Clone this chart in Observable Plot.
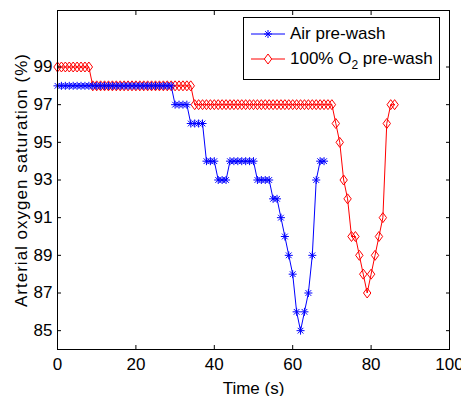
<!DOCTYPE html>
<html>
<head>
<meta charset="utf-8">
<script src="https://cdn.jsdelivr.net/npm/d3@7"></script>
<script src="https://cdn.jsdelivr.net/npm/@observablehq/plot@0.6"></script>
<style>
  html, body { margin: 0; padding: 0; background: white; }
  #wrap { position: relative; width: 461px; height: 396px; font-family: "Liberation Sans", Arial, Helvetica, sans-serif; }
  #wrap svg [aria-label="y-axis label"] text { letter-spacing: 1px; }
  #legend { position: absolute; left: 243px; top: 17px; width: 195px; height: 61px; border: 1.5px solid black; background: white; font-size: 17px; color: black; }
  .row { position: absolute; left: 6px; height: 20px; display: flex; align-items: center; white-space: nowrap; }
  .row svg { margin-right: 4px; }
  sub { font-size: 12px; vertical-align: -5px; line-height: 0; }
</style>
</head>
<body>
<div id="wrap">
  <div id="legend">
    <div class="row" style="top:6px;">
      <svg width="36" height="20"><line x1="1" y1="10" x2="35" y2="10" stroke="#0000ff" stroke-width="1"/><path d="M18,6V14M14,10H22M15.2,7.2L20.8,12.8M15.2,12.8L20.8,7.2" stroke="#0000ff" stroke-width="1" fill="none"/></svg>
      <span>Air pre-wash</span>
    </div>
    <div class="row" style="top:31px;">
      <svg width="36" height="20"><line x1="1" y1="10" x2="35" y2="10" stroke="#ff0000" stroke-width="1"/><path d="M18,5L21.7,10L18,15L14.3,10Z" stroke="#ff0000" stroke-width="1" fill="white"/></svg>
      <span>100% O<sub>2</sub> pre-wash</span>
    </div>
  </div>
</div>
<script>
// ---- data ----
const airTime = [0,1,2,3,4,5,6,7,8,9,10,11,12,13,14,15,16,17,18,19,20,21,22,23,24,25,26,27,28,29,
  30,31,32,33,34,35,36,37,38,39,40,41,42,43,44,45,46,47,48,49,50,51,52,53,54,55,56,57,58,59,
  60,61,62,63,64,65,66,67,68];
const airSat = [98,98,98,98,98,98,98,98,98,98,98,98,98,98,98,98,98,98,98,98,98,98,98,98,98,98,98,98,98,98,
  97,97,97,97,96,96,96,96,94,94,94,93,93,93,94,94,94,94,94,94,94,93,93,93,93,92,92,91,90,89,
  88,86,85,86,87,89,93,94,94];

const o2Time = [0,1,2,3,4,5,6,7,8,9,10,11,12,13,14,15,16,17,18,19,20,21,22,23,24,25,26,27,28,29,
  30,31,32,33,34,35,36,37,38,39,40,41,42,43,44,45,46,47,48,49,50,51,52,53,54,55,56,57,58,59,
  60,61,62,63,64,65,66,67,68,69,70,71,72,73,74,75,76,77,78,79,80,81,82,83,84,85,86];
const o2Sat = [99,99,99,99,99,99,99,99,99,98,98,98,98,98,98,98,98,98,98,98,98,98,98,98,98,98,98,98,98,98,
  98,98,98,98,98,97,97,97,97,97,97,97,97,97,97,97,97,97,97,97,97,97,97,97,97,97,97,97,97,97,
  97,97,97,97,97,97,97,97,97,97,97,96,95,93,92,90,90,89,88,87,88,89,90,91,96,97,97];

const xTicks = [0, 20, 40, 60, 80, 100];
const yTicks = [85, 87, 89, 91, 93, 95, 97, 99];

const air = airTime.map((t, i) => ({t, s: airSat[i]}));
const o2 = o2Time.map((t, i) => ({t, s: o2Sat[i]}));

// MATLAB-like open diamond
const diamondSym = {
  draw(ctx, size) {
    const r = Math.sqrt(size / Math.PI);
    const hw = r, hh = r * 1.35;
    ctx.moveTo(0, -hh); ctx.lineTo(hw, 0); ctx.lineTo(0, hh); ctx.lineTo(-hw, 0); ctx.closePath();
  }
};

const chart = Plot.plot({
  width: 461,
  height: 396,
  marginLeft: 57,
  marginRight: 12,
  marginTop: 10,
  marginBottom: 47,
  style: {fontFamily: '"Liberation Sans", Arial, Helvetica, sans-serif', fontSize: "17px", color: "black", background: "white", overflow: "visible"},
  x: {domain: [0, 100]},
  y: {domain: [84, 102]},
  marks: [
    Plot.line(o2, {x: "t", y: "s", stroke: "#ff0000", strokeWidth: 1}),
    Plot.dot(o2, {x: "t", y: "s", symbol: diamondSym, r: 3.7, stroke: "#ff0000", fill: "none", strokeWidth: 1}),
    Plot.line(air, {x: "t", y: "s", stroke: "#0000ff", strokeWidth: 1}),
    Plot.dot(air, {x: "t", y: "s", symbol: "plus", r: 2.7, stroke: "#0000ff", strokeWidth: 1}),
    Plot.dot(air, {x: "t", y: "s", symbol: "times", r: 2.7, stroke: "#0000ff", strokeWidth: 1}),
    Plot.frame({stroke: "black", strokeWidth: 1}),
    Plot.axisX({ticks: xTicks, tickSize: -4, tickPadding: 12, label: "Time (s)", labelAnchor: "center", labelArrow: "none", labelOffset: 44}),
    Plot.axisX({anchor: "top", ticks: xTicks, tickSize: -4, tickFormat: () => "", label: null}),
    Plot.axisY({ticks: yTicks, tickSize: -4, tickPadding: 9, label: "Arterial oxygen saturation (%)", labelAnchor: "center", labelArrow: "none", labelOffset: 43}),
    Plot.axisY({anchor: "right", ticks: yTicks, tickSize: -4, tickFormat: () => "", label: null})
  ]
});
document.getElementById("wrap").prepend(chart);
</script>
</body>
</html>
